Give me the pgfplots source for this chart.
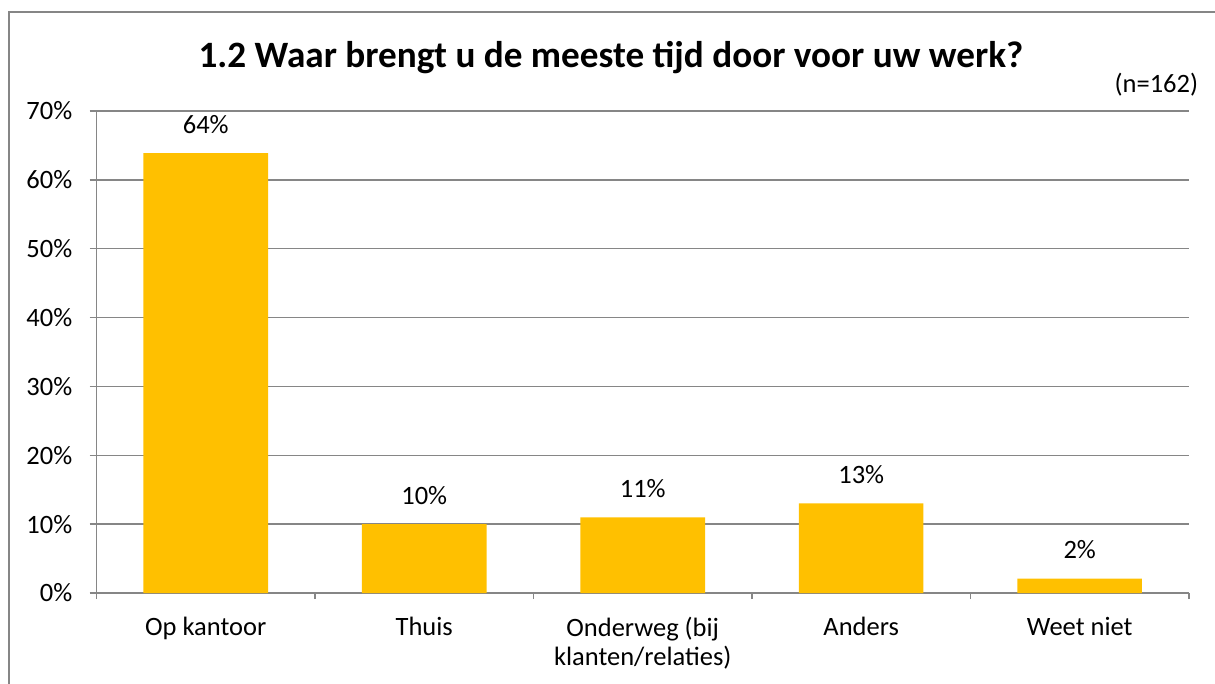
\documentclass[border=0pt]{standalone}
\usepackage{pgfplots}
\pgfplotsset{compat=1.18}
\usepackage{fontspec}
\setmainfont{Carlito}
\definecolor{axgray}{HTML}{868686}
\definecolor{barcol}{HTML}{FFC000}
\begin{document}
\begin{tikzpicture}
\useasboundingbox (0pt,0pt) rectangle (1215pt,683pt);
\draw[axgray, line width=2pt] (8.5pt,-20pt) -- (8.5pt,671pt) -- (1240pt,671pt);
\node[font=\fontsize{37.2}{44}\selectfont\bfseries, anchor=base, inner sep=0pt] at (611pt,615.7pt) {1.2 Waar brengt u de meeste tijd door voor uw werk?};
\node[font=\fontsize{26.5}{31}\selectfont, anchor=base east, inner sep=0pt] at (1198.3pt,590.7pt) {(n=162)};
\begin{axis}[
  at={(96.5pt,90pt)}, anchor=south west,
  scale only axis, width=1092.5pt, height=482pt,
  xmin=-0.5, xmax=4.5, ymin=0, ymax=70,
  axis lines*=left,
  axis line style={draw=axgray, line width=1.3pt},
  ybar, bar width=0.57,
  ymajorgrids, grid style={draw=axgray, line width=1.3pt},
  tick align=outside,
  /pgf/number format/assume math mode=true,
  ytick={0,10,...,70},
  yticklabels={0\%,10\%,20\%,30\%,40\%,50\%,60\%,70\%},
  xtick={0,1,2,3,4},
  xticklabels={Op kantoor,Thuis,{Onderweg (bij\\klanten/relaties)},Anders,Weet niet},
  minor xtick={-0.5,0.5,1.5,2.5,3.5,4.5},
  major x tick style={draw=none},
  minor x tick style={draw=axgray, line width=1.3pt},
  minor tick length=6pt,
  major y tick style={draw=axgray, line width=1.3pt},
  major tick length=7pt,
  ticklabel style={font=\fontsize{26.5}{28.5}\selectfont},
  xticklabel style={align=center, anchor=north, inner sep=0pt, yshift=-17pt},
  yticklabel style={anchor=east, inner sep=0pt, xshift=-17pt},
  nodes near coords={\pgfmathprintnumber[fixed,precision=0,assume math mode=true]{\pgfplotspointmeta}\%},
  every node near coord/.append style={font=\fontsize{26.5}{31}\selectfont, anchor=base, inner sep=0pt, yshift=20pt, black},
]
\addplot[fill=barcol, draw=none] coordinates {(0,63.9) (1,10.0) (2,11.0) (3,13.0) (4,2.1)};
\end{axis}
\end{tikzpicture}
\end{document}
